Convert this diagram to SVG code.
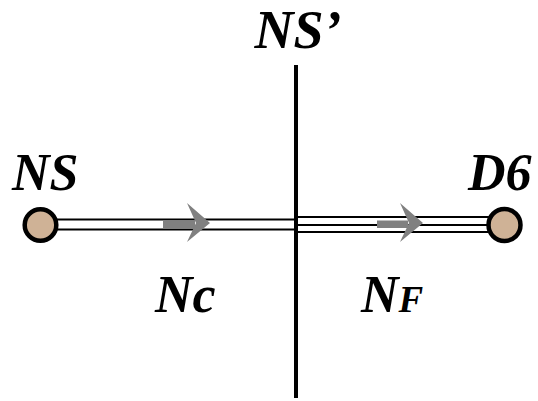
<svg xmlns="http://www.w3.org/2000/svg" width="538" height="401" viewBox="0 0 538 401">
<style>
.t{font-family:"Liberation Serif","Times New Roman",serif;font-weight:bold;font-style:italic;fill:#000}
.ln{stroke:#000;stroke-width:2;fill:none}
.node{fill:#cfb296;stroke:#000;stroke-width:4.5}
.arr{fill:#808080}
</style>
<rect width="538" height="401" fill="#fff"/>
<g id="connectors">
<line class="ln" x1="54" y1="219.5" x2="296" y2="219.5"/>
<line class="ln" x1="54" y1="229.5" x2="296" y2="229.5"/>
<line class="ln" x1="296" y1="217" x2="490" y2="217"/>
<line class="ln" x1="296" y1="225" x2="490" y2="225"/>
<line class="ln" x1="296" y1="232" x2="490" y2="232"/>
<g id="arrow1" class="arr"><rect x="163" y="221" width="32" height="7.5"/><polygon points="187,203 210,223 187,242 196,223"/></g>
<g id="arrow2" class="arr"><rect x="377" y="220.5" width="31" height="7.5"/><polygon points="400,203 423,223 400,242 409,223"/></g>
</g>
<g id="divider"><line x1="296" y1="65" x2="296" y2="398" stroke="#000" stroke-width="4"/></g>
<g id="node-NS"><circle class="node" cx="40.5" cy="225" r="15.8"/><text class="t" x="12" y="190" font-size="52">NS</text></g>
<g id="node-D6"><circle class="node" cx="504.5" cy="225" r="16"/><text class="t" x="468" y="190" font-size="52">D6</text></g>
<g id="label-NSp"><text class="t" x="298" y="48" font-size="54" text-anchor="middle">NS’</text></g>
<g id="label-Nc"><text class="t" x="155" y="312" font-size="52">Nc</text></g>
<g id="label-NF"><text class="t" x="361" y="312" font-size="52">N<tspan font-size="37">F</tspan></text></g>
</svg>
